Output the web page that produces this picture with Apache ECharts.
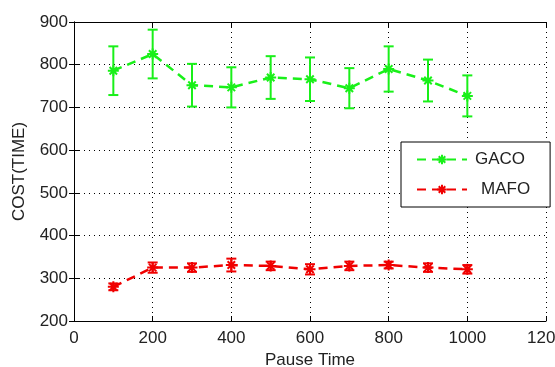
<!DOCTYPE html>
<html>
<head>
<meta charset="utf-8">
<script src="https://cdn.jsdelivr.net/npm/echarts@6/dist/echarts.min.js"></script>
<style>
  html, body { margin: 0; padding: 0; background: #fff; }
  #chart { width: 555px; height: 367px; }
</style>
</head>
<body>
<div id="chart"></div>
<script>
// Pause time on the x axis
const pauseTimes = [100, 200, 300, 400, 500, 600, 700, 800, 900, 1000];

// GACO cost: mean and half-width of the error bar
const gacoMean = [786, 825, 752, 747, 770, 766, 745, 790, 763, 727];
const gacoErr  = [57, 57, 50, 47, 50, 51, 47, 53, 49, 48];

// MAFO cost: mean and half-width of the error bar
const mafoMean = [280, 325, 325, 331, 329, 321, 329, 331, 325, 321];
const mafoErr  = [8, 12, 10, 15, 10, 12, 10, 8, 10, 10];

const seriesNames = ['GACO', 'MAFO'];
const GREEN = '#19f019';
const RED = '#f00000';
const FONT = 'Liberation Sans, Arial, sans-serif';

// asterisk-style marker: a plus overlaid with an x
const starPath = 'path://M5 0 L5 10 M0 5 L10 5 M1.6 1.6 L8.4 8.4 M8.4 1.6 L1.6 8.4';

function lineData(mean) {
  return pauseTimes.map((x, i) => [x, mean[i]]);
}
function barData(mean, err) {
  return pauseTimes.map((x, i) => [x, mean[i] - err[i], mean[i] + err[i]]);
}

function errorBarRenderer(color) {
  return function (params, api) {
    const x = api.value(0);
    const lo = api.coord([x, api.value(1)]);
    const hi = api.coord([x, api.value(2)]);
    const cap = 5;
    const style = { stroke: color, lineWidth: 2 };
    return {
      type: 'group',
      children: [
        { type: 'line', shape: { x1: lo[0], y1: lo[1], x2: hi[0], y2: hi[1] }, style },
        { type: 'line', shape: { x1: lo[0] - cap, y1: lo[1], x2: lo[0] + cap, y2: lo[1] }, style },
        { type: 'line', shape: { x1: hi[0] - cap, y1: hi[1], x2: hi[0] + cap, y2: hi[1] }, style }
      ]
    };
  };
}

function lineSeries(name, mean, color) {
  return {
    name: name,
    type: 'line',
    data: lineData(mean),
    symbol: starPath,
    symbolSize: 11,
    showSymbol: true,
    itemStyle: { color: color, borderColor: color, borderWidth: 2 },
    lineStyle: { color: color, width: 2.5, type: [9, 6] },
    emphasis: { disabled: true },
    z: 3
  };
}

function errorSeries(mean, err, color) {
  return {
    type: 'custom',
    data: barData(mean, err),
    renderItem: errorBarRenderer(color),
    encode: { x: 0, y: [1, 2] },
    silent: true,
    z: 2
  };
}

const plainNumber = v => String(v);
const tickLabel = { color: '#222', fontFamily: FONT, fontSize: 17, formatter: plainNumber };
const dotted = { show: true, lineStyle: { color: '#000', width: 1, type: [1, 4] } };

const chart = echarts.init(document.getElementById('chart'), null, { renderer: 'canvas' });
chart.setOption({
  animation: false,
  backgroundColor: '#fff',
  grid: { left: 74, right: 9, top: 22, bottom: 46, containLabel: false, outerBoundsMode: 'none' },
  legend: {
    data: [
      { name: seriesNames[0], textStyle: { padding: [0, 0, 0, 3] } },
      { name: seriesNames[1], textStyle: { padding: [0, 0, 0, 9] } }
    ],
    orient: 'vertical',
    left: 401,
    top: 142,
    itemWidth: 50,
    itemHeight: 12,
    itemGap: 13,
    padding: [9, 20, 9, 15],
    borderColor: '#000',
    borderWidth: 1,
    backgroundColor: '#fff',
    textStyle: { color: '#222', fontFamily: FONT, fontSize: 17 },
    selectedMode: false
  },
  xAxis: [
    {
      type: 'value', min: 0, max: 1200, interval: 200, position: 'bottom',
      name: 'Pause Time', nameLocation: 'middle', nameGap: 30,
      nameTextStyle: { color: '#222', fontFamily: FONT, fontSize: 17 },
      axisLine: { show: true, lineStyle: { color: '#000', width: 1 } },
      axisTick: { show: true, inside: true, length: 5, lineStyle: { color: '#000' } },
      axisLabel: Object.assign({ margin: 9 }, tickLabel),
      splitLine: dotted
    },
    {
      type: 'value', min: 0, max: 1200, interval: 200, position: 'top',
      axisLine: { show: true, lineStyle: { color: '#000', width: 1 } },
      axisTick: { show: true, inside: true, length: 5, lineStyle: { color: '#000' } },
      axisLabel: { show: false },
      splitLine: { show: false }
    }
  ],
  yAxis: [
    {
      type: 'value', min: 200, max: 900, interval: 100, position: 'left',
      name: 'COST(TIME)', nameLocation: 'middle', nameGap: 46, nameRotate: 90,
      nameTextStyle: { color: '#222', fontFamily: FONT, fontSize: 17 },
      axisLine: { show: true, lineStyle: { color: '#000', width: 1 } },
      axisTick: { show: true, inside: true, length: 5, lineStyle: { color: '#000' } },
      axisLabel: Object.assign({ margin: 6 }, tickLabel),
      splitLine: dotted
    },
    {
      type: 'value', min: 200, max: 900, interval: 100, position: 'right',
      axisLine: { show: true, lineStyle: { color: '#000', width: 1 } },
      axisTick: { show: true, inside: true, length: 5, lineStyle: { color: '#000' } },
      axisLabel: { show: false },
      splitLine: { show: false }
    }
  ],
  series: [
    lineSeries('GACO', gacoMean, GREEN),
    errorSeries(gacoMean, gacoErr, GREEN),
    lineSeries('MAFO', mafoMean, RED),
    errorSeries(mafoMean, mafoErr, RED)
  ]
});
</script>
</body>
</html>
